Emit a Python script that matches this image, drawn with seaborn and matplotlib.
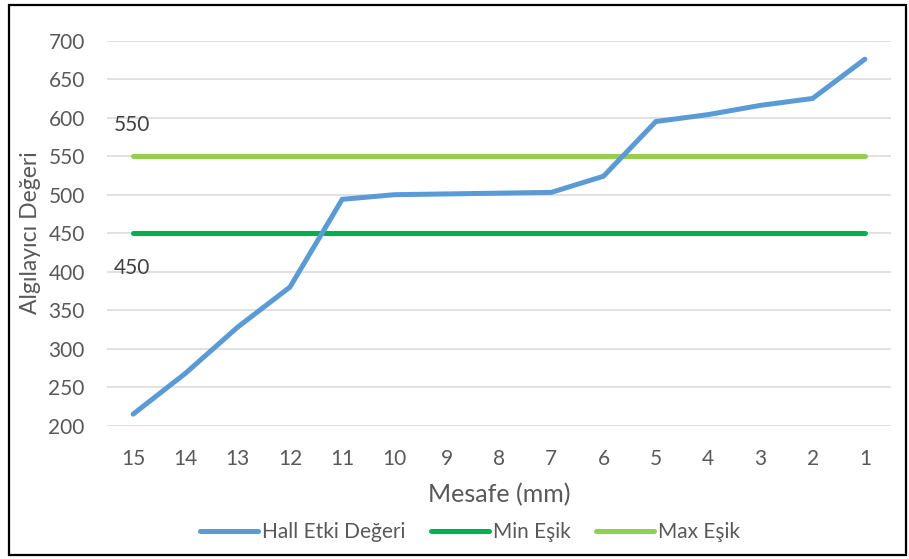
import matplotlib
matplotlib.use("Agg")
import matplotlib.pyplot as plt
from matplotlib.lines import Line2D
from matplotlib.patches import Rectangle
import seaborn as sns
import pandas as pd

# Measurement data
mesafe = ["15", "14", "13", "12", "11", "10", "9", "8", "7", "6", "5", "4", "3", "2", "1"]
hall_etki = [215, 268, 328, 380, 494, 500, 501, 502, 503, 524, 595, 604, 616, 625, 676]
min_esik = [450] * 15
max_esik = [550] * 15
y_ticks = [200, 250, 300, 350, 400, 450, 500, 550, 600, 650, 700]

df = pd.DataFrame({"Mesafe": mesafe, "Hall": hall_etki, "Min": min_esik, "Max": max_esik})

sns.set_theme(style="white")
plt.rcParams["font.family"] = ["Lato", "DejaVu Sans"]

BLUE = "#5B9BD5"
DARK_GREEN = "#00B050"
LIGHT_GREEN = "#92D050"
TICK_COLOR = "#595959"

W, H = 909, 559
fig = plt.figure(figsize=(W / 100, H / 100), dpi=100)
ax = fig.add_axes([107 / W, 1 - 425.7 / H, (891 - 107) / W, (425.7 - 40.7) / H])

lw = 3.6
sns.lineplot(data=df, x="Mesafe", y="Max", ax=ax, color=LIGHT_GREEN, linewidth=lw,
             sort=False, solid_capstyle="round", zorder=3)
sns.lineplot(data=df, x="Mesafe", y="Min", ax=ax, color=DARK_GREEN, linewidth=lw,
             sort=False, solid_capstyle="round", zorder=3)
sns.lineplot(data=df, x="Mesafe", y="Hall", ax=ax, color=BLUE, linewidth=lw,
             sort=False, solid_capstyle="round", solid_joinstyle="miter", zorder=4)

ax.set_xlim(-0.5, len(mesafe) - 0.5)
ax.set_ylim(200, 700)
ax.set_yticks(y_ticks)
ax.set_xlabel("")
ax.set_ylabel("")
ax.grid(axis="y", color="#D9D9D9", linewidth=1.1)
ax.set_axisbelow(True)
for s in ax.spines.values():
    s.set_visible(False)
ax.tick_params(axis="both", length=0, labelsize=15, colors=TICK_COLOR)
ax.tick_params(axis="y", pad=16)
ax.tick_params(axis="x", pad=17)

# Threshold value labels
ax.text(-0.37, 590, "550", fontsize=15, color="#404040", va="center", ha="left")
ax.text(-0.37, 405, "450", fontsize=15, color="#404040", va="center", ha="left")

# Axis titles
fig.text(499 / W, 1 - 495 / H, "Mesafe (mm)", fontsize=18, color=TICK_COLOR,
         ha="center", va="center")
fig.text(31 / W, 1 - 233 / H, "Algılayıcı Değeri", fontsize=16.5, color=TICK_COLOR,
         ha="center", va="center", rotation=90)

# Legend
handles = [
    Line2D([], [], color=BLUE, linewidth=lw, solid_capstyle="round"),
    Line2D([], [], color=DARK_GREEN, linewidth=lw, solid_capstyle="round"),
    Line2D([], [], color=LIGHT_GREEN, linewidth=lw, solid_capstyle="round"),
]
labels = ["Hall Etki Değeri", "Min Eşik", "Max Eşik"]
fig.legend(handles, labels, loc="center", bbox_to_anchor=(470 / W, 1 - 532 / H),
           ncol=3, frameon=False, fontsize=15, handlelength=2.8, handletextpad=0.2,
           columnspacing=1.2, labelcolor=TICK_COLOR)

# Chart border
fig.patches.append(Rectangle((9 / W, 4 / H), (906 - 9) / W, (554 - 4) / H,
                             transform=fig.transFigure, fill=False,
                             edgecolor="black", linewidth=1.6))

fig.savefig("out.png", dpi=100)
